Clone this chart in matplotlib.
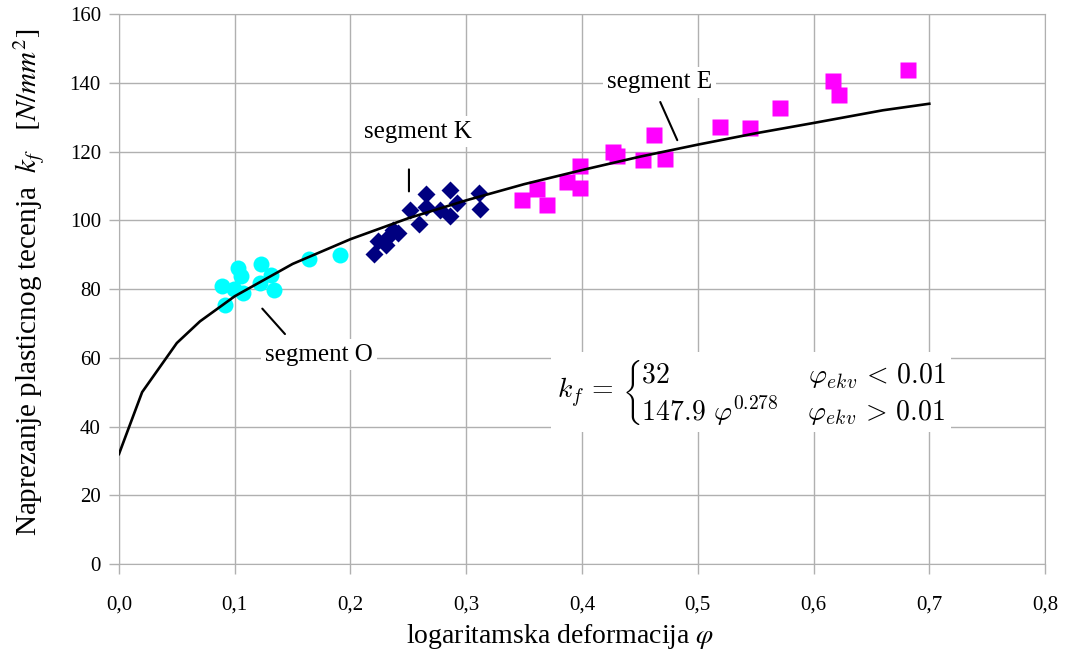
import numpy as np
import matplotlib
matplotlib.use("Agg")
import matplotlib.pyplot as plt

plt.rcParams['font.family'] = ['Liberation Serif', 'DejaVu Serif']
plt.rcParams['mathtext.fontset'] = 'stix'

# flow curve kf(phi)
phi_curve = [0.0, 0.02, 0.05, 0.07, 0.10, 0.15, 0.20, 0.25, 0.30, 0.35,
             0.40, 0.45, 0.50, 0.55, 0.60, 0.66, 0.70]
kf_curve = [32.0, 50.0, 64.3, 70.6, 77.9, 87.3, 94.5, 100.6, 105.8, 110.5,
            114.6, 118.5, 122.0, 125.3, 128.3, 132.0, 133.9]

# measured points, segment O
phi_O = [0.089, 0.103, 0.105, 0.099, 0.107, 0.092, 0.123, 0.131, 0.122, 0.134,
         0.164, 0.191]
kf_O = [80.8, 86.1, 83.9, 80.0, 78.9, 75.4, 87.4, 84.2, 81.8, 79.6, 88.6, 90.0]

# segment K
phi_K = [0.220, 0.224, 0.231, 0.232, 0.237, 0.241, 0.251, 0.259, 0.265, 0.265,
         0.277, 0.286, 0.286, 0.292, 0.311, 0.312]
kf_K = [90.3, 93.9, 92.9, 95.0, 97.3, 96.3, 103.1, 99.0, 107.5, 103.9,
        103.1, 108.7, 101.2, 105.1, 107.8, 103.3]

# segment E
phi_E = [0.348, 0.361, 0.370, 0.387, 0.398, 0.398, 0.427, 0.430, 0.453, 0.462,
         0.472, 0.519, 0.545, 0.571, 0.617, 0.622, 0.682]
kf_E = [105.8, 109.1, 104.3, 111.1, 115.7, 109.4, 119.8, 118.8, 117.5, 124.7,
        117.7, 127.0, 126.9, 132.7, 140.5, 136.3, 143.6]

x_ticks = [0.0, 0.1, 0.2, 0.3, 0.4, 0.5, 0.6, 0.7, 0.8]
x_tick_labels = ["0,0", "0,1", "0,2", "0,3", "0,4", "0,5", "0,6", "0,7", "0,8"]
y_ticks = [0, 20, 40, 60, 80, 100, 120, 140, 160]

GRID = '#b0b0b0'

fig = plt.figure(figsize=(10.68, 6.55), dpi=100)
ax = fig.add_axes([0.1114, 0.1389, 0.8671, 0.8397])

ax.plot(phi_O, kf_O, 'o', ms=11.5, color='#00ffff', mec='none', zorder=3)
ax.plot(phi_K, kf_K, 'D', ms=9.5, color='#000080', mec='none', zorder=3)
ax.plot(phi_E, kf_E, 's', ms=11, color='#ff00ff', mec='none', zorder=3)
ax.plot(phi_curve, kf_curve, color='black', lw=1.9, zorder=4)

ax.set_xlim(0, 0.8)
ax.set_ylim(0, 160)
ax.set_xticks(x_ticks)
ax.set_xticklabels(x_tick_labels)
ax.set_yticks(y_ticks)
ax.grid(True, color=GRID, lw=1.0)
ax.set_axisbelow(True)
for sp in ax.spines.values():
    sp.set_color(GRID)
ax.tick_params(axis='both', colors=GRID, labelcolor='black', labelsize=15,
               length=7, width=1, direction='out')
ax.tick_params(axis='x', pad=16)
ax.tick_params(axis='y', pad=6)

ax.set_xlabel(r"logaritamska deformacija $\varphi$", fontsize=20, va='center')
ax.xaxis.set_label_coords(0.476, -0.131)
ax.set_ylabel(r"Naprezanje plasticnog tecenja  $k_f$   $[N/mm^2]$", fontsize=21,
              va='center')
ax.yaxis.set_label_coords(-0.097, 0.513)

# segment labels with leader lines
lbl = dict(fontsize=18, ha='center', va='center', zorder=5,
           bbox=dict(fc='white', ec='none', pad=3))
line = dict(arrowstyle='-', lw=1.5, color='black', shrinkA=0, shrinkB=0)

ax.text(0.258, 125.8, "segment K", **lbl)
ax.annotate('', xy=(0.2505, 108.4), xytext=(0.2505, 114.8), arrowprops=line)

ax.text(0.467, 140.1, "segment E", **lbl)
ax.annotate('', xy=(0.4823, 123.3), xytext=(0.4676, 134.4), arrowprops=line)

ax.text(0.173, 60.9, "segment O", **lbl)
ax.annotate('', xy=(0.1434, 66.9), xytext=(0.1238, 74.3), arrowprops=line)

formula = (r"$k_f\,=\,\left\{\genfrac{}{}{0}{0}"
           r"{32\hspace{5.7}\varphi_{ekv}\,<\,0.01}"
           r"{147.9\ \varphi^{0.278}\hspace{1.17}\varphi_{ekv}\,>\,0.01}\right.$")
ax.text(0.378, 50, formula, fontsize=20, math_fontfamily='cm', ha='left',
        va='center', zorder=5, bbox=dict(fc='white', ec='none', pad=4))

fig.savefig("out.png", dpi=100)
